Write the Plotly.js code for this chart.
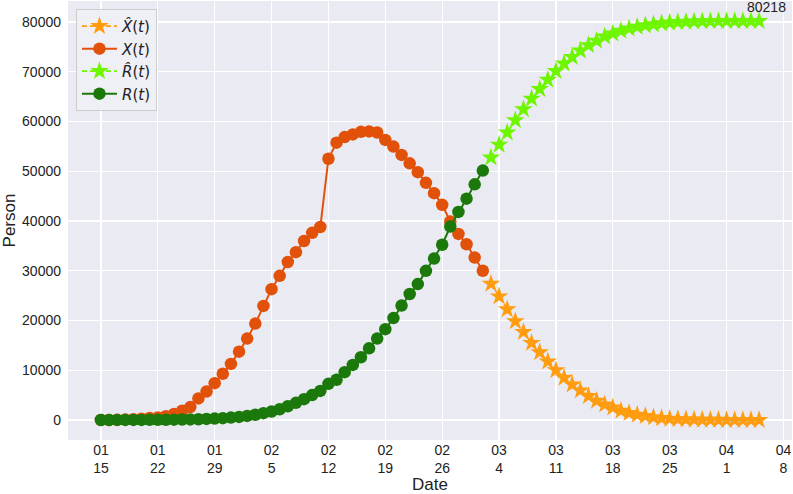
<!DOCTYPE html>
<html>
<head>
<meta charset="utf-8">
<script src="https://cdn.plot.ly/plotly-3.0.1.min.js"></script>
<style>html,body{margin:0;padding:0;background:#fff;}#chart{width:793px;height:494px;}</style>
</head>
<body>
<div id="chart"></div>
<script>
// Observed dates (2020-01-15 .. 2020-03-02)
const obsDates = [
 "2020-01-15","2020-01-16","2020-01-17","2020-01-18","2020-01-19","2020-01-20","2020-01-21","2020-01-22",
 "2020-01-23","2020-01-24","2020-01-25","2020-01-26","2020-01-27","2020-01-28","2020-01-29","2020-01-30","2020-01-31",
 "2020-02-01","2020-02-02","2020-02-03","2020-02-04","2020-02-05","2020-02-06","2020-02-07","2020-02-08",
 "2020-02-09","2020-02-10","2020-02-11","2020-02-12","2020-02-13","2020-02-14","2020-02-15","2020-02-16",
 "2020-02-17","2020-02-18","2020-02-19","2020-02-20","2020-02-21","2020-02-22","2020-02-23","2020-02-24",
 "2020-02-25","2020-02-26","2020-02-27","2020-02-28","2020-02-29","2020-03-01","2020-03-02"];
// Predicted dates (2020-03-03 .. 2020-04-05)
const predDates = [
 "2020-03-03","2020-03-04","2020-03-05","2020-03-06","2020-03-07","2020-03-08","2020-03-09","2020-03-10",
 "2020-03-11","2020-03-12","2020-03-13","2020-03-14","2020-03-15","2020-03-16","2020-03-17","2020-03-18",
 "2020-03-19","2020-03-20","2020-03-21","2020-03-22","2020-03-23","2020-03-24","2020-03-25","2020-03-26",
 "2020-03-27","2020-03-28","2020-03-29","2020-03-30","2020-03-31","2020-04-01","2020-04-02","2020-04-03",
 "2020-04-04","2020-04-05"];

const X_obs = [27,28,41,94,170,260,403,526,771,1208,1870,2613,4349,5739,7417,9308,11289,
 13748,16369,19381,22942,26302,28985,31774,33738,35982,37626,38800,52526,55748,56873,57416,57934,
 58016,57805,56303,54965,53284,51606,49824,47672,45604,43258,39919,37414,35329,32652,30004];
const R_obs = [14,17,21,27,28,31,37,45,59,79,105,131,166,235,294,384,502,
 632,836,1057,1382,1716,2176,2772,3460,4189,5012,5853,7278,8103,9619,11084,12614,
 14420,16380,18273,20500,23004,25330,27326,29986,32460,35239,38905,41837,44495,47374,50147];
const X_hat = [27400,24850,22240,19840,17700,15500,13630,11760,10020,8480,7150,5950,4810,3870,3100,2500,
 1870,1400,1060,800,560,380,270,190,130,90,60,40,30,20,14,10,7,5];
const R_hat = [52770,55310,57800,60260,62460,64600,66530,68400,70140,71650,72980,74250,75350,76250,77080,77690,
 78250,78700,79050,79330,79560,79750,79880,79980,80050,80100,80140,80170,80185,80198,80205,80210,80215,80218];

const tickVals = ["2020-01-15","2020-01-22","2020-01-29","2020-02-05","2020-02-12","2020-02-19","2020-02-26",
 "2020-03-04","2020-03-11","2020-03-18","2020-03-25","2020-04-01","2020-04-08"];
const tickText = ["01<br>15","01<br>22","01<br>29","02<br>5","02<br>12","02<br>19","02<br>26",
 "03<br>4","03<br>11","03<br>18","03<br>25","04<br>1","04<br>8"];
const yTicks = [0,10000,20000,30000,40000,50000,60000,70000,80000];

const cXhat = "#ff9c0f", cX = "#e2510a", cRhat = "#6ef500", cR = "#1a790a";

const traces = [
 {x: predDates, y: X_hat, name: "<i>X̂</i>(<i>t</i>)", mode: "lines+markers",
  line: {color: cXhat, width: 1.6, dash: "5px,3px"}, marker: {symbol: "star", size: 14, color: cXhat}},
 {x: obsDates, y: X_obs, name: "<i>X</i>(<i>t</i>)", mode: "lines+markers",
  line: {color: cX, width: 2}, marker: {symbol: "circle", size: 12.5, color: cX}},
 {x: predDates, y: R_hat, name: "<i>R̂</i>(<i>t</i>)", mode: "lines+markers",
  line: {color: cRhat, width: 1.6, dash: "5px,3px"}, marker: {symbol: "star", size: 14, color: cRhat}},
 {x: obsDates, y: R_obs, name: "<i>R</i>(<i>t</i>)", mode: "lines+markers",
  line: {color: cR, width: 2}, marker: {symbol: "circle", size: 12.5, color: cR}}
];

const layout = {
 width: 793, height: 494,
 margin: {l: 68, r: 1, t: 1, b: 54},
 paper_bgcolor: "#ffffff", plot_bgcolor: "#eaeaf2",
 font: {family: "Liberation Sans, Arial, sans-serif", size: 14, color: "#222222"},
 showlegend: true,
 legend: {x: 0.011, y: 0.982, xanchor: "left", yanchor: "top", itemwidth: 35,
  bgcolor: "rgba(240,240,246,0.9)", bordercolor: "#cccccc", borderwidth: 1,
  font: {family: "DejaVu Sans, sans-serif", size: 15, color: "#222222"}},
 xaxis: {type: "date", range: ["2020-01-10 22:48", "2020-04-09 01:12"],
  tickvals: tickVals, ticktext: tickText, showgrid: true, gridcolor: "#ffffff", gridwidth: 1.2,
  zeroline: false, showline: false, ticks: "", automargin: false,
  tickfont: {size: 14},
  title: {text: "Date", font: {size: 17}, standoff: 8}},
 yaxis: {range: [-4011, 84229], tickvals: yTicks, tickformat: "d",
  showgrid: true, gridcolor: "#ffffff", gridwidth: 1.2, zeroline: false, showline: false,
  ticks: "", automargin: false, tickfont: {size: 14}, ticklabelstandoff: 6,
  title: {text: "Person", font: {size: 17}, standoff: 4}},
 annotations: [{x: predDates[predDates.length - 1], y: R_hat[R_hat.length - 1], text: String(R_hat[R_hat.length - 1]),
  showarrow: false, xanchor: "center", yanchor: "middle", xshift: 7, yshift: 14,
  font: {size: 14, color: "#222222"}}]
};

Plotly.newPlot("chart", traces, layout, {displayModeBar: false, staticPlot: true});
</script>
</body>
</html>
